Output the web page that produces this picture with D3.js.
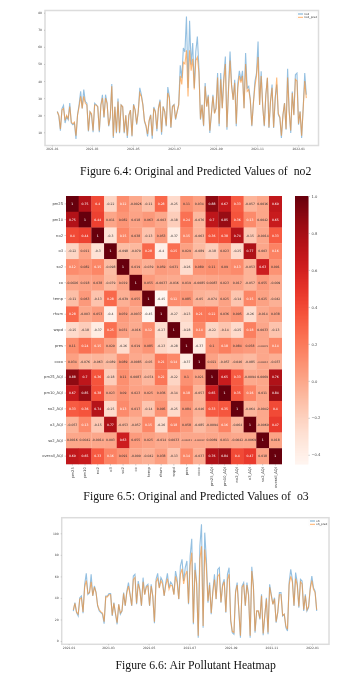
<!DOCTYPE html>
<html><head><meta charset="utf-8">
<script src="https://cdn.jsdelivr.net/npm/d3@7"></script>
<style>
html,body{margin:0;padding:0;background:#fff}
svg{display:block}
.soft{filter:blur(0.6px)}
.cap{filter:blur(0.3px)}
</style></head><body><svg id="page" width="362" height="678"></svg>
<script>
// ---------- data ----------
const no2 = [22.2,19.3,11,23.8,25.8,15.4,19.3,17.4,27.1,15.4,14.4,15.4,6.1,20.3,26.2,34,24,35,28,27,10.5,22,20,10,27,26,25,10,26,32,18.5,32,27,13.5,18.5,38.2,6.7,25,9.5,29.7,9.5,26,25,9.5,20,6.7,20,23,7.6,26.5,23,14.5,22,36,32,
26.2,16.4,13.5,7.6,16.4,20.3,6.3,24.8,22.3,10.6,24.2,29.1,8.6,25.2,22.3,13.5,36.5,31,12.5,25.2,26.2,17.4,22.3,26.2,49.2,41.7,59.3,57,77.8,35.9,75.3,49.5,62.2,35.9,57.3,66.1,47.6,17.4,26.2,13.5,38.8,25.2,32,9.6,20.3,32,21.3,24.2,44.7,13.5,44.7,24.2,42.7,54.4,11.5,35.9,
57.3,37.9,29.1,40.8,13.5,38.8,46,40.2,46,24.2,56.4,35.9,36.9,29.1,13.5,27.1,39.8,44.7,63.2,26.2,45.7,25.2,13.5,32,41.7,12.5,28.1,37.9,12.5,30,37.9,20.3,18.4,6.7,20.3,27.1,11.5,47.2,22.3,9.6,33.9,20.3,43.7,44.7,14.5,22.3,6.7,24.2,44.7,32];
const no2Pred = [22,20,12,23,24,17,20,18,25,16,15,16,8,20,25,31,24,31,27,26,11,22,21,11,26,26,25,11,26,30,19,30,27,14,19,37,7.5,25,10,28,10,26,25,10,20,8,20,23,8,26,23,15,22,33,31,
26,17,14,9,17,20,8,24,22,12,24,28,10,25,22,14,33,30,13,25,26,18,22,26,43,38,51,50,58,31,58,46,53,35,52,54,45,18,26,14,37,25,31,11,21,31,21,24,42,15,41,24,40,50,13,34,
52,37,29,39,15,36,43,39,43,24,50,34,35,29,14,27,37,43,54,26,43,25,14,32,42,13,28,36,13,29,42,21,19,8,20,27,12,42,22,11,33,20,41,40,15,22,8,24,40,30];
const o3 = [27.8,35.6,26.3,23.2,40.2,41.8,25.7,52.6,62.8,43.3,44.9,61.9,41.8,51.1,45.5,32.5,27.8,26.3,24.8,16.1,41.8,41.8,44,44,23.2,35.6,24.8,15.5,34.1,24.8,27.8,44.9,32.5,46.4,54.2,43.3,32.5,60.3,61.9,34.1,55.7,48,32.5,58.8,43.3,51.1,52.6,32.5,
52.6,41.8,16.4,57.3,62.8,49.5,58.8,55.7,41.8,54.2,62.8,49.5,54.8,52.6,43.3,65,57.3,38.7,69.6,75.8,55.7,68.1,74.3,34.1,78.9,95,15.5,72.7,54.2,3.1,88.2,108.3,12.4,100.6,75.8,35.6,54.2,24.8,46.4,61.9,38.7,66.5,68.1,35.6,52.6,57.3,26.3,61.9,68.1,18.6,7.7,
6.2,46.4,54.2,27.8,3.1,51.1,54.2,32.5,54.2,43.3,3.1,69,51.1,7.7,27.8,27.8,20.1,43.3,5.3,23.2,40.2,6.2,52.6,43.3,34.1,40.2,17,26.3,44.9,44.9,23.2,24.8,12.4,9.3,54.2,66.5,57.3,32.5,63.5,54.2,31,57.3,55.7,27.8,43.3,27.8,31,49.5,60.3,49.5,46.4,27.8];
const o3Pred = [29,35,27,25,39,40,27,50,56,44,45,55,42,50,45,33,29,27,26,18,41,41,43,43,24,35,26,17,34,26,28,44,33,45,51,43,33,57,59,35,53,47,33,55,43,50,51,33,
51,41,18,55,58,49,56,53,42,52,58,48,52,51,43,60,54,39,62,67,53,61,65,35,70,82,17,66,53,5,76,88,14,85,68,37,52,26,45,57,39,60,62,36,51,55,27,57,62,20,9,
8,45,52,29,5,50,52,33,52,42,5,65,50,9,28,28,21,42,7,24,39,8,50,42,34,39,18,27,43,43,24,25,14,11,52,60,55,33,58,52,32,55,53,29,42,29,32,48,56,48,45,29];

const no2Ticks = [10,20,30,40,50,60,70,80];
const o3Ticks = [0,20,40,60,80,100];
const monthTicks = ["2021-01-01","2021-03-01","2021-05-01","2021-07-01","2021-09-01","2021-11-01","2022-01-01"];
const no2Dates = ["2021-01-09","2022-01-13"];
const o3Dates = ["2021-01-08","2022-01-08"];

const labels = ["pm25","pm10","no2","o3","so2","co","temp","rhum","wspd","pres","coco","pm25_AQI","pm10_AQI","no2_AQI","o3_AQI","so2_AQI","overall_AQI"];
const rowPm25 = [1,.75,.4,-.22,.12,-.0026,-.11,.28,-.25,.11,.034,.88,.67,.33,-.057,.0016,.69];
const rowPm10 = [.75,1,.44,.011,.082,.018,.063,-.003,-.18,.24,-.076,.7,.85,.36,.13,.0042,.65];
const rowNo2 = [.4,.44,1,-.3,.15,.038,-.13,.053,-.37,.15,-.063,.36,.38,.74,-.15,-.0014,.33];
const rowO3 = [-.22,.011,-.3,1,-.098,-.079,.28,-.4,.25,.029,-.089,-.18,.023,-.25,.77,.003,.16];
const rowSo2 = [.12,.082,.15,-.098,1,.019,-.039,.059,.031,-.26,.089,.11,.09,.13,-.053,.63,.091];
const rowCo = [-.0026,.018,.038,-.079,.019,1,.055,-.0037,-.016,.019,-.0085,.0087,.023,.017,-.057,.055,-.009];
const rowTemp = [-.11,.063,-.13,.28,-.039,.055,1,-.45,.12,.085,-.05,-.074,.025,-.14,.15,.025,-.042];
const rowRhum = [.28,-.003,.053,-.4,.059,-.0037,-.45,1,-.27,-.23,.21,.22,.036,.095,-.26,-.014,.038];
const rowWspd = [-.25,-.18,-.37,.25,.031,-.016,.12,-.27,1,-.28,.14,-.22,-.14,-.25,.18,.0033,-.13];
const rowPres = [.11,.24,.15,.029,-.26,.019,.085,-.23,-.28,1,-.37,.1,.18,.084,.058,-.00021,.14];
const rowCoco = [.034,-.076,-.063,-.089,.089,-.0085,-.05,.21,.14,-.37,1,.021,-.057,-.046,-.085,-.00012,-.037];
const rowPm25A = [.88,.7,.36,-.18,.11,.0087,-.074,.22,-.22,.1,.021,1,.65,.33,-.0094,.0069,.76];
const rowPm10A = [.67,.85,.38,.023,.09,.023,.025,.036,-.14,.18,-.057,.65,1,.35,.16,.011,.84];
const rowNo2A = [.33,.36,.74,-.25,.13,.017,-.14,.095,-.25,.084,-.046,.33,.35,1,-.064,-.0042,.4];
const rowO3A = [-.057,.13,-.15,.77,-.053,-.057,.15,-.26,.18,.058,-.085,-.0094,.16,-.064,1,-.0069,.47];
const rowSo2A = [.0016,.0042,-.0014,.003,.63,.055,.025,-.014,.0033,-.00021,-.00012,.0069,.011,-.0042,-.0069,1,.018];
const rowAll = [.69,.65,.33,.16,.091,-.009,-.042,.038,-.13,.14,-.037,.76,.84,.4,.47,.018,1];
const corr = [rowPm25,rowPm10,rowNo2,rowO3,rowSo2,rowCo,rowTemp,rowRhum,rowWspd,rowPres,rowCoco,rowPm25A,rowPm10A,rowNo2A,rowO3A,rowSo2A,rowAll];
const barTicks = [1,.8,.6,.4,.2,0,-.2,-.4];

const captions = [
  {t:"Figure 6.4: Original and Predicted Values of  no2", x:195.7, y:175},
  {t:"Figure 6.5: Original and Predicted Values of  o3", x:196, y:500},
  {t:"Figure 6.6: Air Pollutant Heatmap", x:195.7, y:668.5}
];

// ---------- drawing ----------
const svg = d3.select("#page");
const SANS = "'DejaVu Sans',sans-serif";
const parseD = d3.utcParse("%Y-%m-%d");
const fmtM = d3.utcFormat("%Y-%m");

function styleAxis(g, size){
  g.selectAll("text").attr("font-family",SANS).attr("font-size",size).attr("fill","#444");
  g.selectAll("line").attr("stroke","#888").attr("stroke-width",.4);
  g.select(".domain").remove();
}

function lineChart(o){
  const g = svg.append("g").attr("class","soft");
  const x = d3.scaleUtc(o.dates.map(parseD),o.xData);
  const y = d3.scaleLinear(o.yDomain,o.yRange);
  g.append("rect").attr("x",o.box[0]).attr("y",o.box[1]).attr("width",o.box[2]-o.box[0]).attr("height",o.box[3]-o.box[1])
    .attr("fill","#fff").attr("stroke","#dcdcdc").attr("stroke-width",1.5);
  const ya = g.append("g").attr("transform",`translate(${o.box[0]},0)`)
    .call(d3.axisLeft(y).tickValues(o.yTicks).tickSize(1).tickPadding(2));
  styleAxis(ya,3);
  const xa = g.append("g").attr("transform",`translate(0,${o.box[3]})`)
    .call(d3.axisBottom(x).tickValues(monthTicks.map(parseD)).tickFormat(fmtM).tickSize(1).tickPadding(1.5));
  styleAxis(xa,3);
  const idx = d3.scaleLinear([0,o.a.length-1],o.dates.map(d=>+parseD(d)));
  const line = d3.line().x((d,i)=>x(idx(i))).y(d=>y(d)).curve(d3.curveLinear);
  g.append("path").attr("d",line(o.a)).attr("fill","none").attr("stroke","#3d8dc8").attr("stroke-width",1.1).attr("stroke-opacity",.55);
  g.append("path").attr("d",line(o.b)).attr("fill","none").attr("stroke","#ff8c1f").attr("stroke-width",1.1).attr("stroke-opacity",.6);
  const [lx,ly] = o.legend;
  g.append("rect").attr("x",lx).attr("y",ly).attr("width",o.box[2]-lx-1.5).attr("height",7).attr("fill","#fff").attr("stroke","#eee").attr("stroke-width",.3);
  o.names.forEach((n,i)=>{
    const yy = ly+2+i*3.3;
    g.append("line").attr("x1",lx+1).attr("x2",lx+6).attr("y1",yy).attr("y2",yy).attr("stroke",i?"#ff7f0e":"#1f77b4").attr("stroke-width",.9).attr("stroke-opacity",.7);
    g.append("text").attr("x",lx+7).attr("y",yy+1).attr("font-family",SANS).attr("font-size",2.8).attr("fill","#333").text(n);
  });
}

lineChart({a:no2,b:no2Pred,names:["no2","no2_pred"],dates:no2Dates,xData:[57.3,306.3],yDomain:[10,80],yRange:[132.3,12.7],
  yTicks:no2Ticks,box:[45,10.5,318.5,145.5],legend:[297,12]});
lineChart({a:o3,b:o3Pred,names:["o3","o3_pred"],dates:o3Dates,xData:[73.3,316.7],yDomain:[0,100],yRange:[641,533.3],
  yTicks:o3Ticks,box:[61.7,517.7,329,644.3],legend:[309,519]});

// heatmap
const hm = svg.append("g").attr("class","soft");
const cx = d3.scaleBand(labels,[66,281.7]);
const cy = d3.scaleBand(labels,[196,464]);
const vmin = d3.min(corr.flat()), vmax = d3.max(corr.flat());
const color = d3.scaleSequential(d3.interpolateReds).domain([vmin,vmax]);
const fmtC = d3.format(".2~r");
const cells = corr.flatMap((r,i)=>r.map((v,j)=>({r:labels[i],c:labels[j],v})));
hm.selectAll("rect").data(cells).join("rect")
  .attr("x",d=>cx(d.c)).attr("y",d=>cy(d.r)).attr("width",cx.bandwidth()+.3).attr("height",cy.bandwidth()+.3)
  .attr("fill",d=>color(d.v));
hm.selectAll("text.v").data(cells).join("text").attr("class","v")
  .attr("x",d=>cx(d.c)+cx.bandwidth()/2).attr("y",d=>cy(d.r)+cy.bandwidth()/2+1.1)
  .attr("text-anchor","middle").attr("font-family",SANS).attr("font-size",d=>Math.abs(d.v)<.001?2.4:3.1)
  .attr("fill",d=>d.v>.115?"#fff":"#333").text(d=>fmtC(d.v).replace("\u2212","-"));
const ly = hm.append("g").attr("transform","translate(66,0)").call(d3.axisLeft(cy).tickSize(1.5).tickPadding(1.5));
styleAxis(ly,3.7);
const lx = hm.append("g").attr("transform","translate(0,464)").call(d3.axisBottom(cx).tickSize(1.5).tickPadding(1.5));
styleAxis(lx,3.7);
lx.selectAll("text").attr("text-anchor","end").attr("dy",0).attr("dx",0)
  .attr("transform","rotate(-90)").attr("x",-3.2).attr("y",1.2);

// colour bar
const barY = d3.scaleLinear([vmin,vmax],[464,196]);
const steps = d3.range(vmin,vmax,(vmax-vmin)/268);
hm.append("g").selectAll("rect").data(steps).join("rect")
  .attr("x",295).attr("width",13.4).attr("y",d=>barY(d)-1).attr("height",1.6).attr("fill",d=>color(d));
const ba = hm.append("g").attr("transform","translate(308.4,0)")
  .call(d3.axisRight(barY).tickValues(barTicks).tickSize(1.5).tickPadding(1.5).tickFormat(d3.format(".1f")));
styleAxis(ba,3.7);

// captions
svg.append("g").attr("class","cap").selectAll("text").data(captions).join("text")
  .attr("x",d=>d.x).attr("y",d=>d.y).attr("text-anchor","middle")
  .attr("font-family","'Liberation Serif',serif").attr("font-size",11.75).attr("fill","#111")
  .style("white-space","pre").text(d=>d.t);
</script></body></html>
